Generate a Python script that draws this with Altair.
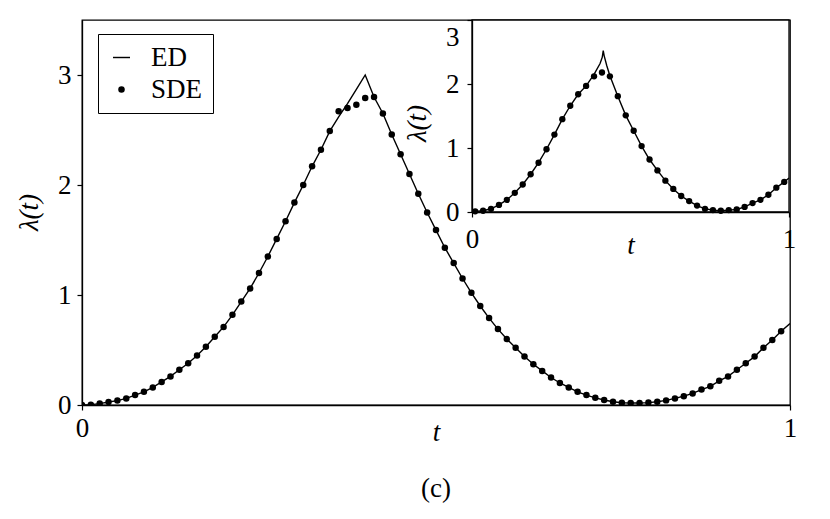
import altair as alt
import pandas as pd

FONT = "Liberation Serif"

# ---------------- main panel data ----------------
main_t = [i * 0.0125 for i in range(80)]
main_sde = [0.0, 0.003, 0.013, 0.027, 0.04, 0.06, 0.09, 0.12, 0.16, 0.21,
            0.26, 0.32, 0.38, 0.45, 0.53, 0.62, 0.71, 0.82, 0.94, 1.06,
            1.20, 1.35, 1.51, 1.67, 1.84, 2.00, 2.17, 2.32, 2.49, 2.67,
            2.70, 2.73, 2.79, 2.80, 2.65, 2.46, 2.28, 2.10, 1.92, 1.75,
            1.59, 1.43, 1.29, 1.15, 1.02, 0.90, 0.79, 0.69, 0.60, 0.52,
            0.44, 0.37, 0.31, 0.25, 0.20, 0.16, 0.12, 0.09, 0.065, 0.045,
            0.03, 0.02, 0.018, 0.018, 0.022, 0.03, 0.042, 0.06, 0.08, 0.105,
            0.14, 0.17, 0.22, 0.26, 0.32, 0.38, 0.44, 0.52, 0.59, 0.67]

main_ed_t = main_t + [1.0]
main_ed = [0.0, 0.003, 0.013, 0.027, 0.04, 0.06, 0.09, 0.12, 0.16, 0.21,
           0.26, 0.32, 0.38, 0.45, 0.53, 0.62, 0.71, 0.82, 0.94, 1.06,
           1.20, 1.35, 1.51, 1.67, 1.84, 2.00, 2.17, 2.32, 2.49, 2.62,
           2.74, 2.87, 3.00, 2.80, 2.65, 2.46, 2.28, 2.10, 1.92, 1.75,
           1.59, 1.43, 1.29, 1.15, 1.02, 0.90, 0.79, 0.69, 0.60, 0.52,
           0.44, 0.37, 0.31, 0.25, 0.20, 0.16, 0.12, 0.09, 0.065, 0.045,
           0.03, 0.02, 0.018, 0.018, 0.022, 0.03, 0.042, 0.06, 0.08, 0.105,
           0.14, 0.17, 0.22, 0.26, 0.32, 0.38, 0.44, 0.52, 0.59, 0.67,
           0.74]

# ---------------- inset data ----------------
inset_t = [0.01 + 0.025 * i for i in range(40)]
inset_sde = [0.01, 0.02, 0.05, 0.11, 0.19, 0.30, 0.43, 0.59, 0.77, 0.98,
             1.21, 1.45, 1.66, 1.84, 1.97, 2.12, 2.18, 2.12, 1.81, 1.51,
             1.27, 1.03, 0.82, 0.65, 0.49, 0.36, 0.25, 0.17, 0.10, 0.05,
             0.03, 0.02, 0.03, 0.04, 0.08, 0.14, 0.19, 0.27, 0.38, 0.47]

inset_ed_t = [0.0, 0.01, 0.035, 0.06, 0.085, 0.11, 0.135, 0.16, 0.185, 0.21,
              0.235, 0.26, 0.285, 0.31, 0.335, 0.36, 0.385, 0.404, 0.411, 0.414,
              0.417, 0.425, 0.435, 0.46, 0.485, 0.51, 0.535, 0.56, 0.585, 0.61,
              0.635, 0.66, 0.685, 0.71, 0.735, 0.76, 0.785, 0.81, 0.835, 0.86,
              0.885, 0.91, 0.935, 0.96, 0.985, 1.0]
inset_ed = [0.0, 0.01, 0.02, 0.05, 0.11, 0.19, 0.30, 0.43, 0.59, 0.77,
            0.98, 1.21, 1.45, 1.66, 1.84, 1.97, 2.15, 2.32, 2.42, 2.52,
            2.44, 2.29, 2.13, 1.81, 1.51, 1.27, 1.03, 0.82, 0.65, 0.49,
            0.36, 0.25, 0.17, 0.10, 0.05, 0.03, 0.02, 0.03, 0.04, 0.08,
            0.14, 0.19, 0.27, 0.38, 0.47, 0.53]

legend_labels = ["ED", "SDE"]

main_ed_df = pd.DataFrame({"t": main_ed_t, "v": main_ed})
main_sde_df = pd.DataFrame({"t": main_t, "v": main_sde, "series": "SDE"})
inset_ed_df = pd.DataFrame({"t": inset_ed_t, "v": inset_ed})
inset_sde_df = pd.DataFrame({"t": inset_t, "v": inset_sde})
inset_box_df = pd.DataFrame({"t": [0.0], "t2": [1.0], "v": [0.0], "v2": [3.0]})

# ---------------- axes ----------------
main_x_axis = alt.Axis(values=[0, 1], format="d", title="t", titleFontStyle="italic",
                       titleX=354, titleY=27, titleBaseline="middle", titleAlign="center",
                       labelFlush=False, labelPadding=5)
main_y_axis = alt.Axis(values=[0, 1, 2, 3], format="d", title="λ(t)", titleFontStyle="italic",
                       titleX=-53, titleY=192, titleAngle=270, titleAlign="center",
                       titleBaseline="middle", labelPadding=6)
inset_x_axis = alt.Axis(values=[0, 1], format="d", orient="bottom", offset=-193,
                        title="t", titleFontStyle="italic", titleX=548.5, titleY=33,
                        titleBaseline="middle", titleAlign="center",
                        labelFlush=False, labelPadding=9, zindex=1)
inset_y_axis = alt.Axis(values=[0, 1, 2, 3], format="d", orient="left", offset=-390,
                        title="λ(t)", titleFontStyle="italic", titleX=-55, titleY=103,
                        titleAngle=270, titleAlign="center", titleBaseline="middle",
                        labelPadding=8, zindex=1,
                        labelOffset={"condition": {"test": "datum.value == 3", "value": 17},
                                     "value": 0})

mx = alt.Scale(domain=[0, 1], nice=False)
my = alt.Scale(domain=[0, 3.5], nice=False)
ix = alt.Scale(domain=[0, 1], range=[390, 707], nice=False)
iy = alt.Scale(domain=[0, 3], range=[192, 0], nice=False)

# thin horizontal bar as the "line" legend symbol, and a circle for the dots
LINE_SYMBOL = "M-1,-0.085L1,-0.085L1,0.085L-1,0.085Z"

legend = alt.Legend(title=None, orient="none", legendX=16, legendY=14, padding=10,
                    strokeColor="black", fillColor="white", cornerRadius=0,
                    labelOffset=16, rowPadding=4, labelFontSize=27, labelFont=FONT)

main_line = alt.Chart(main_ed_df).mark_line(color="black", strokeWidth=1.4, clip=True).encode(
    x=alt.X("t:Q", scale=mx, axis=main_x_axis),
    y=alt.Y("v:Q", scale=my, axis=main_y_axis),
)
main_pts = alt.Chart(main_sde_df).mark_point(
    filled=True, color="black", opacity=1, clip=True
).encode(
    x=alt.X("t:Q", scale=mx, axis=main_x_axis),
    y=alt.Y("v:Q", scale=my, axis=main_y_axis),
    shape=alt.Shape("series:N", scale=alt.Scale(domain=legend_labels, range=[LINE_SYMBOL, "circle"]),
                    legend=legend),
    size=alt.Size("series:N", scale=alt.Scale(domain=legend_labels, range=[289, 42]),
                  legend=legend),
)
main_layer = alt.layer(main_line, main_pts)

inset_box = alt.Chart(inset_box_df).mark_rect(fill="white", stroke="black", strokeWidth=1.3).encode(
    x=alt.X("t:Q", scale=ix, axis=inset_x_axis),
    x2="t2:Q",
    y=alt.Y("v:Q", scale=iy, axis=inset_y_axis),
    y2="v2:Q",
)
inset_line = alt.Chart(inset_ed_df).mark_line(color="black", strokeWidth=1.4).encode(
    x=alt.X("t:Q", scale=ix, axis=inset_x_axis),
    y=alt.Y("v:Q", scale=iy, axis=inset_y_axis),
)
inset_pts = alt.Chart(inset_sde_df).mark_point(
    filled=True, color="black", size=40, opacity=1
).encode(
    x=alt.X("t:Q", scale=ix, axis=inset_x_axis),
    y=alt.Y("v:Q", scale=iy, axis=inset_y_axis),
)
inset_layer = alt.layer(inset_box, inset_line, inset_pts)

chart = alt.layer(main_layer, inset_layer).resolve_scale(
    x="independent", y="independent"
).properties(
    width=708, height=385,
    autosize="none",
    padding={"left": 74, "top": 12, "right": 32, "bottom": 106},
    title=alt.TitleParams("(c)", orient="bottom", anchor="middle", font=FONT,
                          fontSize=27, fontWeight="normal", color="black", offset=31),
).configure_view(
    stroke="black", strokeWidth=1.3
).configure_axis(
    labelFont=FONT, titleFont=FONT, labelFontSize=27, titleFontSize=27,
    titleFontWeight="normal", labelColor="black", titleColor="black",
    domainColor="black", domainWidth=1.3, tickColor="black", tickWidth=1.2,
    tickSize=5, grid=False,
).configure_legend(
    labelFont=FONT, labelColor="black",
)

chart.save("out.html", embed_options={"renderer": "svg", "actions": False})
